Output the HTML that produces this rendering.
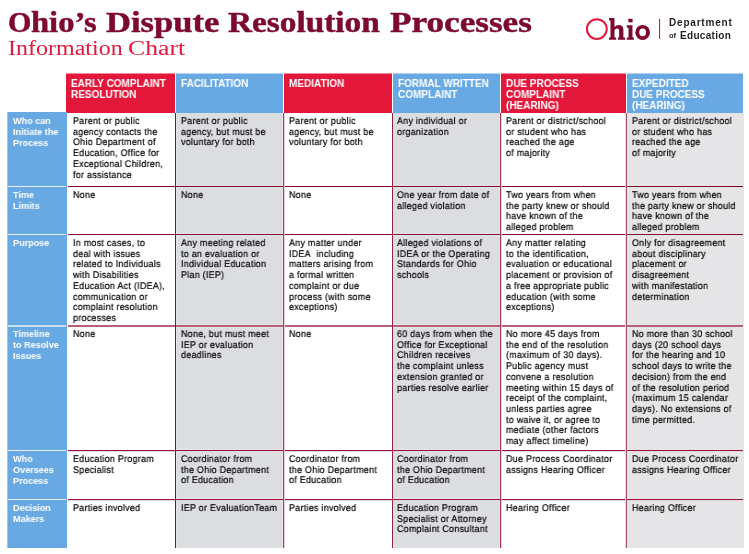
<!DOCTYPE html>
<html><head><meta charset="utf-8"><style>
html,body{margin:0;padding:0;background:#fff;}
body{width:749px;height:554px;position:relative;overflow:hidden;font-family:"Liberation Sans",sans-serif;}
.a{position:absolute;}
.t{position:absolute;white-space:nowrap;will-change:transform;}
.title{font-family:"Liberation Serif",serif;font-weight:bold;color:#7d0a2e;-webkit-text-stroke:0.5px #7d0a2e;font-size:30px;line-height:1;transform-origin:0 0;transform:scaleX(1.06);}
.sub{font-family:"Liberation Serif",serif;color:#e3173a;font-size:20px;line-height:1;transform-origin:0 0;transform:scaleX(1.2);}
.c{font-size:9.7px;line-height:10.7px;letter-spacing:0.3px;color:#000;transform-origin:0 0;transform:scaleX(0.92);text-rendering:geometricPrecision;-webkit-text-stroke:0.2px #000;}
.h{font-size:10.3px;line-height:11.1px;letter-spacing:0px;color:#fff;font-weight:bold;transform-origin:0 0;transform:scaleX(0.97);}
.l{font-size:9.3px;line-height:10.95px;letter-spacing:0px;color:#fff;font-weight:bold;transform-origin:0 0;transform:scaleX(0.975);}
</style></head><body>
<div class="t title" style="left:7.5px;top:7px;transform:scaleX(1.0)">O</div>
<div class="t title" style="left:31px;top:7px;transform:scaleX(1.085)">hio&#8217;s</div>
<div class="t title" style="left:105.5px;top:7px;transform:scaleX(1.152)">Dispute</div>
<div class="t title" style="left:227.5px;top:7px;transform:scaleX(1.11)">Resolution</div>
<div class="t title" style="left:390.2px;top:7px;transform:scaleX(1.172)">Processes</div>
<div class="t sub" style="left:8px;top:37.8px">Information</div>
<div class="t sub" style="left:128.3px;top:37.8px;transform:scaleX(1.285)">Chart</div>
<svg class="a" style="left:0;top:0" width="749" height="60" viewBox="0 0 749 60">
<circle cx="596.85" cy="29.05" r="9.9" fill="none" stroke="#e3173a" stroke-width="2"/>
<rect x="659" y="18.7" width="1.1" height="20.2" fill="#e3173a"/>
<path fill="#7d0a2e" d="M609,18.1 H614.5 V26.9 C615.6,25.6 617.2,24.9 619,24.9 C621.8,24.9 623.4,26.6 623.4,29.8 V37.4 H625 V39.7 H618 V37.4 H619.1 V30.6 C619.1,29.3 618.4,28.5 617.2,28.5 C615.8,28.5 614.5,29.6 614.5,31.2 V37.4 H616.1 V39.7 H609 V37.4 H610.5 V20.5 H609 Z"/>
<rect x="628.3" y="18.8" width="4.3" height="3.5" fill="#7d0a2e"/>
<path fill="#7d0a2e" d="M626.8,25.15 H632.45 V37.4 H633.9 V39.7 H626.8 V37.4 H628.5 V27.7 H626.8 Z"/>
<path fill="#7d0a2e" fill-rule="evenodd" d="M635.3,32.4 a7.35,7.5 0 1,0 14.7,0 a7.35,7.5 0 1,0 -14.7,0 Z M639.25,32.3 a3.4,3.9 0 1,0 6.8,0 a3.4,3.9 0 1,0 -6.8,0 Z"/>
</svg>
<div class="t" style="left:668.5px;top:17.8px;font-weight:bold;font-size:10px;line-height:1;letter-spacing:0.8px;color:#231f20;">Department</div>
<div class="t" style="left:668.8px;top:31.3px;font-weight:bold;font-size:7.5px;line-height:1.43;color:#231f20;">of</div>
<div class="t" style="left:680px;top:31.3px;font-weight:bold;font-size:10px;line-height:1;color:#231f20;letter-spacing:0.3px">Education</div>
<div class="a" style="left:66px;top:74px;width:109px;height:39px;background:#e3173a"></div>
<div class="a" style="left:66px;top:73px;width:109px;height:1px;background:#f08b9c"></div>
<div class="a" style="left:176px;top:74px;width:107px;height:39px;background:#68a9e3"></div>
<div class="a" style="left:176px;top:73px;width:107px;height:1px;background:#b4d4f1"></div>
<div class="a" style="left:284px;top:74px;width:108px;height:39px;background:#e3173a"></div>
<div class="a" style="left:284px;top:73px;width:108px;height:1px;background:#f08b9c"></div>
<div class="a" style="left:393px;top:74px;width:107px;height:39px;background:#68a9e3"></div>
<div class="a" style="left:393px;top:73px;width:107px;height:1px;background:#b4d4f1"></div>
<div class="a" style="left:501px;top:74px;width:125px;height:39px;background:#e3173a"></div>
<div class="a" style="left:501px;top:73px;width:125px;height:1px;background:#f08b9c"></div>
<div class="a" style="left:627px;top:74px;width:116px;height:39px;background:#68a9e3"></div>
<div class="a" style="left:627px;top:73px;width:116px;height:1px;background:#b4d4f1"></div>
<div class="a" style="left:7px;top:112px;width:60px;height:436px;background:#68a9e3"></div>
<div class="a" style="left:7px;top:112px;width:1px;height:436px;background:#9cc6ee"></div>
<div class="a" style="left:8px;top:186px;width:58px;height:1px;background:#e8f1fb"></div>
<div class="a" style="left:8px;top:234px;width:58px;height:1px;background:#e8f1fb"></div>
<div class="a" style="left:8px;top:325px;width:58px;height:2px;background:#c9e0f5"></div>
<div class="a" style="left:8px;top:450px;width:58px;height:1px;background:#e8f1fb"></div>
<div class="a" style="left:8px;top:499px;width:58px;height:1px;background:#e8f1fb"></div>
<div class="a" style="left:176px;top:113px;width:107px;height:435px;background:#e2e6e7"></div>
<div class="a" style="left:177px;top:113px;width:105px;height:72px;background:#dcdde0"></div>
<div class="a" style="left:177px;top:188px;width:105px;height:45px;background:#dcdde0"></div>
<div class="a" style="left:177px;top:236px;width:105px;height:88px;background:#dcdde0"></div>
<div class="a" style="left:177px;top:328px;width:105px;height:121px;background:#dcdde0"></div>
<div class="a" style="left:177px;top:452px;width:105px;height:46px;background:#dcdde0"></div>
<div class="a" style="left:177px;top:501px;width:105px;height:47px;background:#dcdde0"></div>
<div class="a" style="left:393px;top:113px;width:107px;height:435px;background:#e2e6e7"></div>
<div class="a" style="left:394px;top:113px;width:105px;height:72px;background:#dcdde0"></div>
<div class="a" style="left:394px;top:188px;width:105px;height:45px;background:#dcdde0"></div>
<div class="a" style="left:394px;top:236px;width:105px;height:88px;background:#dcdde0"></div>
<div class="a" style="left:394px;top:328px;width:105px;height:121px;background:#dcdde0"></div>
<div class="a" style="left:394px;top:452px;width:105px;height:46px;background:#dcdde0"></div>
<div class="a" style="left:394px;top:501px;width:105px;height:47px;background:#dcdde0"></div>
<div class="a" style="left:627px;top:113px;width:117px;height:435px;background:#e2e6e7"></div>
<div class="a" style="left:628px;top:113px;width:115px;height:72px;background:#e5e5e8"></div>
<div class="a" style="left:628px;top:188px;width:115px;height:45px;background:#e5e5e8"></div>
<div class="a" style="left:628px;top:236px;width:115px;height:88px;background:#e5e5e8"></div>
<div class="a" style="left:628px;top:328px;width:115px;height:121px;background:#e5e5e8"></div>
<div class="a" style="left:628px;top:452px;width:115px;height:46px;background:#e5e5e8"></div>
<div class="a" style="left:628px;top:501px;width:115px;height:47px;background:#e5e5e8"></div>
<div class="a" style="left:68px;top:186px;width:675px;height:1px;background:#85002a"></div>
<div class="a" style="left:68px;top:234px;width:675px;height:1px;background:#8a0a33"></div>
<div class="a" style="left:68px;top:325px;width:675px;height:2px;background:#b86079"></div>
<div class="a" style="left:68px;top:450px;width:675px;height:1px;background:#980f3c"></div>
<div class="a" style="left:68px;top:451px;width:675px;height:1px;background:#efd5dd"></div>
<div class="a" style="left:68px;top:499px;width:675px;height:1px;background:#9a1540"></div>
<div class="a" style="left:68px;top:500px;width:675px;height:1px;background:#ead0d8"></div>
<div class="a" style="left:175px;top:113px;width:1px;height:435px;background:#8a0c36"></div>
<div class="a" style="left:283px;top:113px;width:1px;height:435px;background:#a0455f"></div>
<div class="a" style="left:284px;top:113px;width:1px;height:435px;background:#e9c9d3"></div>
<div class="a" style="left:392px;top:113px;width:1px;height:435px;background:#961e41"></div>
<div class="a" style="left:500px;top:113px;width:1px;height:435px;background:#a0375a"></div>
<div class="a" style="left:501px;top:113px;width:1px;height:435px;background:#eed3dc"></div>
<div class="a" style="left:625px;top:113px;width:1px;height:435px;background:#ecd3db"></div>
<div class="a" style="left:626px;top:113px;width:1px;height:435px;background:#aa506e"></div>
<div class="t h" style="left:70.8px;top:77.6px">EARLY COMPLAINT<br>RESOLUTION</div>
<div class="t h" style="left:180.8px;top:77.6px">FACILITATION</div>
<div class="t h" style="left:288.8px;top:77.6px">MEDIATION</div>
<div class="t h" style="left:397.8px;top:77.6px">FORMAL WRITTEN<br>COMPLAINT</div>
<div class="t h" style="left:505.8px;top:77.6px">DUE PROCESS<br>COMPLAINT<br>(HEARING)</div>
<div class="t h" style="left:631.8px;top:77.6px">EXPEDITED<br>DUE PROCESS<br>(HEARING)</div>
<div class="t l" style="left:12.6px;top:116.2px">Who can<br>Initiate the<br>Process</div>
<div class="t l" style="left:12.6px;top:190.2px">Time<br>Limits</div>
<div class="t l" style="left:12.6px;top:238.2px">Purpose</div>
<div class="t l" style="left:12.6px;top:329.2px">Timeline<br>to Resolve<br>Issues</div>
<div class="t l" style="left:12.6px;top:454.2px">Who<br>Oversees<br>Process</div>
<div class="t l" style="left:12.6px;top:503.2px">Decision<br>Makers</div>
<div class="t c" style="left:72.5px;top:117px">Parent or public<br>agency contacts the<br>Ohio Department of<br>Education, Office for<br>Exceptional Children,<br>for assistance</div>
<div class="t c" style="left:72.5px;top:191px">None</div>
<div class="t c" style="left:72.5px;top:239px">In most cases, to<br>deal with issues<br>related to Individuals<br>with Disabilities<br>Education Act (IDEA),<br>communication or<br>complaint resolution<br>processes</div>
<div class="t c" style="left:72.5px;top:330px">None</div>
<div class="t c" style="left:72.5px;top:455px">Education Program<br>Specialist</div>
<div class="t c" style="left:72.5px;top:504px">Parties involved</div>
<div class="t c" style="left:180.9px;top:117px">Parent or public<br>agency, but must be<br>voluntary for both</div>
<div class="t c" style="left:180.9px;top:191px">None</div>
<div class="t c" style="left:180.9px;top:239px">Any meeting related<br>to an evaluation or<br>Individual Education<br>Plan (IEP)</div>
<div class="t c" style="left:180.9px;top:330px">None, but must meet<br>IEP or evaluation<br>deadlines</div>
<div class="t c" style="left:180.9px;top:455px">Coordinator from<br>the Ohio Department<br>of Education</div>
<div class="t c" style="left:180.9px;top:504px">IEP or EvaluationTeam</div>
<div class="t c" style="left:289px;top:117px">Parent or public<br>agency, but must be<br>voluntary for both</div>
<div class="t c" style="left:289px;top:191px">None</div>
<div class="t c" style="left:289px;top:239px">Any matter under<br>IDEA&nbsp; including<br>matters arising from<br>a formal written<br>complaint or due<br>process (with some<br>exceptions)</div>
<div class="t c" style="left:289px;top:330px">None</div>
<div class="t c" style="left:289px;top:455px">Coordinator from<br>the Ohio Department<br>of Education</div>
<div class="t c" style="left:289px;top:504px">Parties involved</div>
<div class="t c" style="left:397.3px;top:117px">Any individual or<br>organization</div>
<div class="t c" style="left:397.3px;top:191px">One year from date of<br>alleged violation</div>
<div class="t c" style="left:397.3px;top:239px">Alleged violations of<br>IDEA or the Operating<br>Standards for Ohio<br>schools</div>
<div class="t c" style="left:397.3px;top:330px">60 days from when the<br>Office for Exceptional<br>Children receives<br>the complaint unless<br>extension granted or<br>parties resolve earlier</div>
<div class="t c" style="left:397.3px;top:455px">Coordinator from<br>the Ohio Department<br>of Education</div>
<div class="t c" style="left:397.3px;top:504px">Education Program<br>Specialist or Attorney<br>Complaint Consultant</div>
<div class="t c" style="left:506.2px;top:117px">Parent or district/school<br>or student who has<br>reached the age<br>of majority</div>
<div class="t c" style="left:506.2px;top:191px">Two years from when<br>the party knew or should<br>have known of the<br>alleged problem</div>
<div class="t c" style="left:506.2px;top:239px">Any matter relating<br>to the identification,<br>evaluation or educational<br>placement or provision of<br>a free appropriate public<br>education (with some<br>exceptions)</div>
<div class="t c" style="left:506.2px;top:330px">No more 45 days from<br>the end of the resolution<br>(maximum of 30 days).<br>Public agency must<br>convene a resolution<br>meeting within 15 days of<br>receipt of the complaint,<br>unless parties agree<br>to waive it, or agree to<br>mediate (other factors<br>may affect timeline)</div>
<div class="t c" style="left:506.2px;top:455px">Due Process Coordinator<br>assigns Hearing Officer</div>
<div class="t c" style="left:506.2px;top:504px">Hearing Officer</div>
<div class="t c" style="left:631.6px;top:117px">Parent or district/school<br>or student who has<br>reached the age<br>of majority</div>
<div class="t c" style="left:631.6px;top:191px">Two years from when<br>the party knew or should<br>have known of the<br>alleged problem</div>
<div class="t c" style="left:631.6px;top:239px">Only for disagreement<br>about disciplinary<br>placement or<br>disagreement<br>with manifestation<br>determination</div>
<div class="t c" style="left:631.6px;top:330px">No more than 30 school<br>days (20 school days<br>for the hearing and 10<br>school days to write the<br>decision) from the end<br>of the resolution period<br>(maximum 15 calendar<br>days). No extensions of<br>time permitted.</div>
<div class="t c" style="left:631.6px;top:455px">Due Process Coordinator<br>assigns Hearing Officer</div>
<div class="t c" style="left:631.6px;top:504px">Hearing Officer</div>
</body></html>
